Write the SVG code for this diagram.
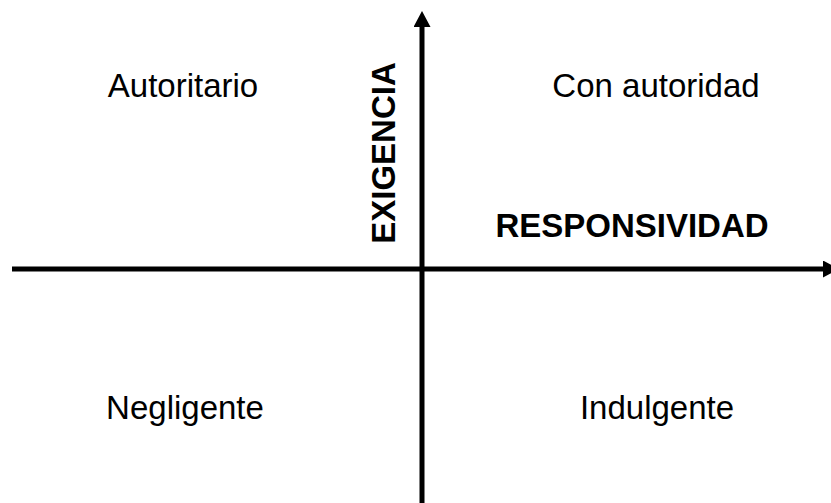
<svg xmlns="http://www.w3.org/2000/svg" width="831" height="503" viewBox="0 0 831 503">
  <style>
    .lbl { font-family: "Liberation Sans", Arial, sans-serif; font-size: 33px; fill: #000; }
    .axis-lbl { font-family: "Liberation Sans", Arial, sans-serif; font-size: 33px; font-weight: bold; fill: #000; }
    .axis { stroke: #000; stroke-width: 5; fill: none; }
  </style>
  <defs>
    <marker id="arrow" viewBox="0 0 16 17" markerWidth="16" markerHeight="17" refX="0" refY="8.5" orient="auto" markerUnits="userSpaceOnUse">
      <path d="M0,0 L16,8.5 L0,17 z" fill="#000"/>
    </marker>
  </defs>
  <rect width="831" height="503" fill="#fff"/>
  <g id="connectors">
    <line class="axis" x1="12" y1="269" x2="823" y2="269" marker-end="url(#arrow)"/>
    <line class="axis" x1="422" y1="503" x2="422" y2="27" marker-end="url(#arrow)"/>
  </g>
  <g id="autoritario"><text class="lbl" x="183" y="97" text-anchor="middle">Autoritario</text></g>
  <g id="con-autoridad"><text class="lbl" x="656" y="97" text-anchor="middle">Con autoridad</text></g>
  <g id="negligente"><text class="lbl" x="185" y="419" text-anchor="middle">Negligente</text></g>
  <g id="indulgente"><text class="lbl" x="657" y="419" text-anchor="middle">Indulgente</text></g>
  <g id="responsividad"><text class="axis-lbl" x="632" y="237" text-anchor="middle">RESPONSIVIDAD</text></g>
  <g id="exigencia"><text class="axis-lbl" transform="translate(395,153) rotate(-90)" text-anchor="middle">EXIGENCIA</text></g>
</svg>
